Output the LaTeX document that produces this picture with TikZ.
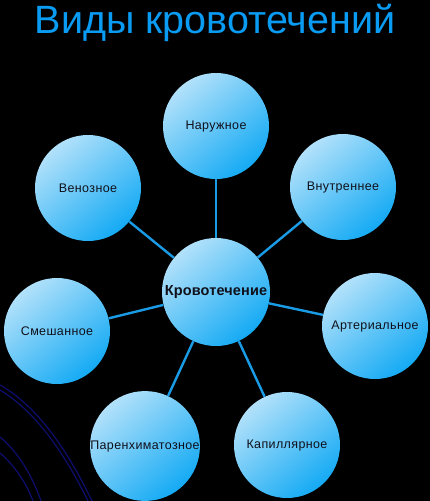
\documentclass[tikz,border=0pt]{standalone}
\usepackage{fontspec}
\setmainfont{Liberation Sans}
\newfontfamily\labfont[LetterSpace=3]{Liberation Sans}
\newfontfamily\cenfont[LetterSpace=1]{Liberation Sans}
\definecolor{titlec}{HTML}{0A9BF2}
\definecolor{lightc}{HTML}{B2E1FA}
\definecolor{darkc}{HTML}{14AAF4}
\definecolor{linkc}{HTML}{1A9BE6}
\definecolor{textc}{HTML}{10101A}
\definecolor{navyc}{HTML}{0E0E6E}
\tikzset{
  bubble/.style={circle, minimum size=106pt, inner sep=0pt,
    top color=lightc, bottom color=darkc, shading angle=40,
    text=textc, font=\labfont\fontsize{12.5}{14}\selectfont},
  hub/.style={bubble, minimum size=108pt, font=\cenfont\bfseries\fontsize{14.5}{16}\selectfont},
  link/.style={draw=linkc, line width=2.4pt},
  swirl/.style={draw=navyc, line width=1.2pt}
}
\begin{document}
\begin{tikzpicture}[x=1pt,y=-1pt]
\fill[black] (0,0) rectangle (430,501);
\useasboundingbox (0,0) rectangle (430,501);
% background swirls
\draw[swirl] (0,385) .. controls (35,405) and (65,445) .. (92,501);
\draw[swirl] (0,390) .. controls (33,410) and (62,448) .. (88,501);
\draw[swirl] (0,437) .. controls (18,452) and (32,475) .. (41,501);
\draw[swirl] (0,453) .. controls (14,465) and (26,482) .. (33,501);
% title
\node[anchor=base, text=titlec, font=\fontsize{39.5}{44}\selectfont, inner sep=0pt] (title) at (215,33) {Виды кровотечений};
% nodes
\node[hub] (c) at (216,292) {Кровотечение};
\node[bubble] (n1) at (216,126) {Наружное};
\node[bubble] (n2) at (343,187) {Внутреннее};
\node[bubble] (n3) at (375,326) {Артериальное};
\node[bubble] (n4) at (287,445) {Капиллярное};
\node[bubble] (n5) at (145,446) {Паренхиматозное};
\node[bubble] (n6) at (57,331) {Смешанное};
\node[bubble] (n7) at (88,188) {Венозное};
\foreach \n in {n1,n2,n3,n4,n5,n6,n7}{\draw[link] (c) -- (\n);}
\end{tikzpicture}
\end{document}
